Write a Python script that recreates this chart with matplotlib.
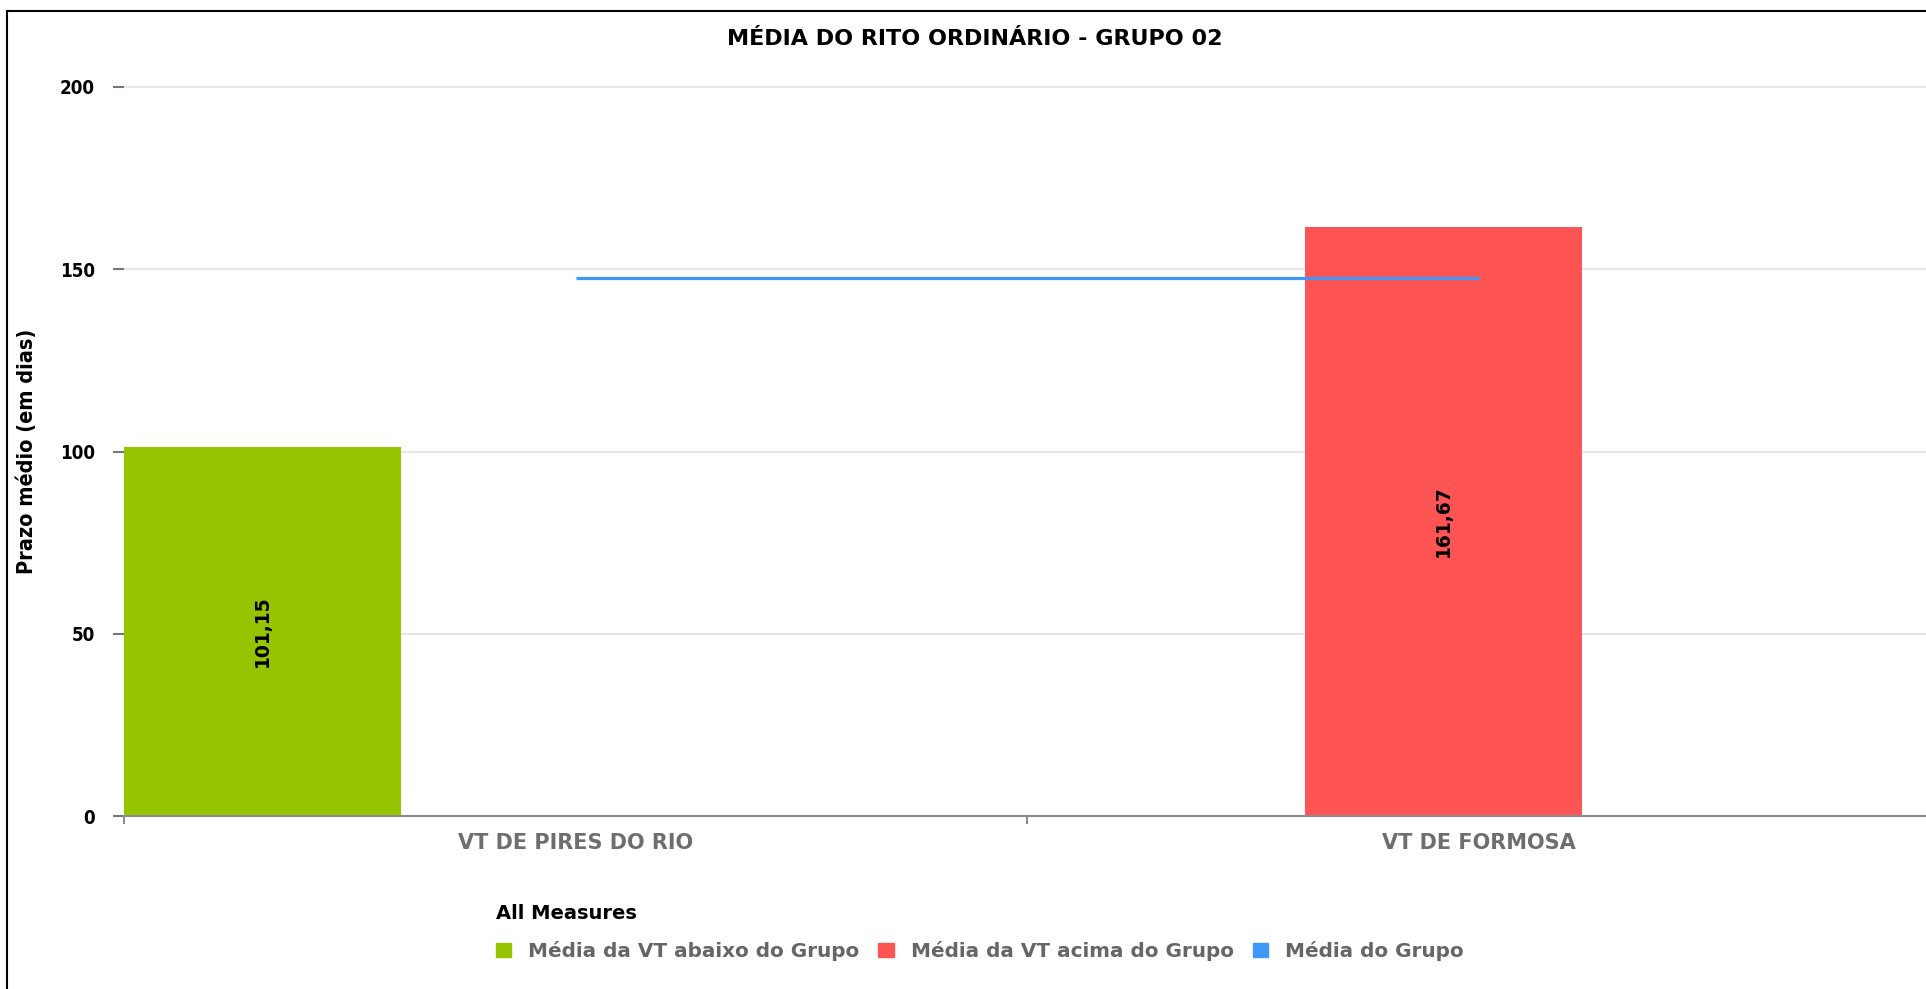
import matplotlib
matplotlib.use('Agg')
import matplotlib.pyplot as plt
from matplotlib.patches import Patch, Rectangle

# data
categories = ["VT DE PIRES DO RIO", "VT DE FORMOSA"]
series_names = ["Média da VT abaixo do Grupo", "Média da VT acima do Grupo", "Média do Grupo"]
below_values = [101.15, None]
above_values = [None, 161.67]
group_mean = [147.7, 147.7]

green = '#96c400'
red = '#fe5454'
blue = '#3d98f7'

plt.rcParams['font.family'] = 'DejaVu Sans'
plt.rcParams['font.stretch'] = 'condensed'

W, H = 1926, 989
fig = plt.figure(figsize=(W / 100, H / 100), dpi=100)
ax = fig.add_axes([124 / W, 1 - 816 / H, (1930 - 124) / W, (816 - 87) / H])

# bar slots inside each category band (band width = 1)
bar_off = [0.0, 0.308]
bar_w = 0.307

def bar_label(x, v):
    ax.text(x + bar_w / 2, v / 2, ("%.2f" % v).replace('.', ','), rotation=90,
            ha='center', va='center', fontsize=13.5, fontweight='bold',
            fontstretch='normal', zorder=5)

for i, v in enumerate(below_values):
    if v is None:
        continue
    x = i + bar_off[0]
    ax.bar(x, v, width=bar_w, align='edge', color=green, zorder=3)
    bar_label(x, v)
for i, v in enumerate(above_values):
    if v is None:
        continue
    x = i + bar_off[1]
    ax.bar(x, v, width=bar_w, align='edge', color=red, zorder=3)
    bar_label(x, v)

centers = [i + 0.5 for i in range(len(categories))]
ax.plot(centers, group_mean, color=blue, lw=2.3, solid_capstyle='butt', zorder=4)

ax.set_xlim(0, len(categories))
ax.set_ylim(0, 200)
ax.set_yticks([0, 50, 100, 150, 200])
ax.grid(axis='y', color='#e6e6e6', lw=1.5, zorder=0)
for g in ax.get_ygridlines():
    g.set_clip_on(False)

ax.set_xticks(range(len(categories) + 1))
ax.set_xticklabels([])
ax.set_xticks(centers, minor=True)
ax.set_xticklabels(categories, minor=True)
ax.tick_params(axis='x', which='major', length=6, width=1.2, color='#777777')
ax.tick_params(axis='x', which='minor', length=0, pad=12, labelsize=15,
               labelcolor='#6e6e6e')
for t in ax.get_xticklabels(minor=True):
    t.set_fontweight('bold')
    t.set_fontstretch('normal')
ax.tick_params(axis='y', length=8, width=1.5, color='#777777', pad=13,
               labelsize=13.5)
for t in ax.get_yticklabels():
    t.set_fontweight('bold')

for s in ['top', 'right', 'left']:
    ax.spines[s].set_visible(False)
ax.spines['bottom'].set_color('#8c8c8c')
ax.spines['bottom'].set_linewidth(1.5)
ax.spines['bottom'].set_zorder(6)

fig.text(975 / W, 1 - 39 / H, "MÉDIA DO RITO ORDINÁRIO - GRUPO 02", ha='center',
         va='center', fontsize=16, fontweight='bold', fontstretch='normal')
fig.text(27 / W, 1 - 451 / H, "Prazo médio (em dias)", rotation=90, ha='center',
         va='center', fontsize=15.5, fontweight='bold')

handles = [Patch(color=green), Patch(color=red), Patch(color=blue)]
leg = fig.legend(handles, series_names, title="All Measures", ncol=3,
                 loc='upper left', bbox_to_anchor=(478 / W, 1 - 886 / H),
                 frameon=False, fontsize=14.45, handlelength=0.75,
                 handleheight=0.75, handletextpad=0.85, columnspacing=0.95,
                 labelspacing=0.9, alignment='left', labelcolor='#666666')
leg.get_title().set_fontweight('bold')
leg.get_title().set_fontsize(14)
leg.get_title().set_fontstretch('normal')
for t in leg.get_texts():
    t.set_fontweight('bold')
    t.set_fontstretch('normal')

fig.patches.append(Rectangle((7 / W, -0.1), 1.2, 1 - 11 / H + 0.1,
                             transform=fig.transFigure, fill=False,
                             ec='black', lw=1.5))

plt.savefig("out.png", dpi=100)
